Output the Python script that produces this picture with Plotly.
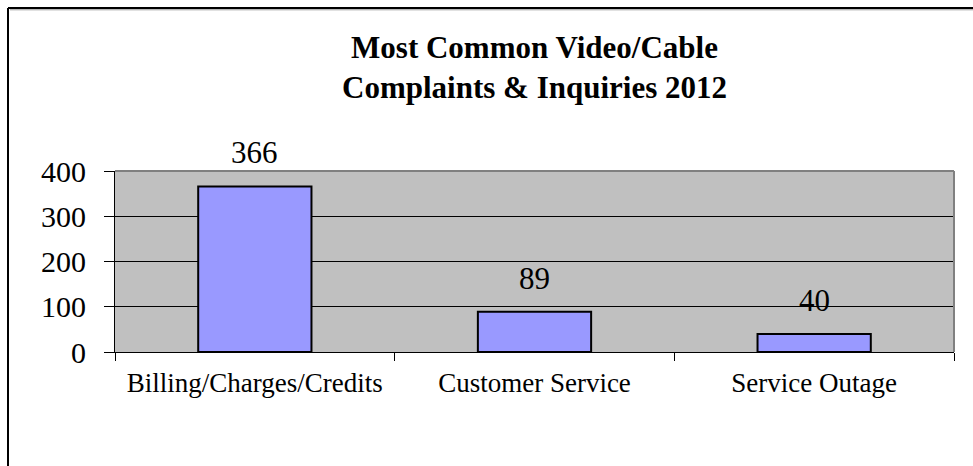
import plotly.graph_objects as go

categories = ["Billing/Charges/Credits", "Customer Service", "Service Outage"]
values = [366, 89, 40]
y_ticks = [0, 100, 200, 300, 400]

W, H = 973, 466
L, R, T, B = 115, 954, 171, 352
SERIF = "Liberation Serif"
fig = go.Figure()
fig.add_trace(go.Bar(
    x=categories, y=values, width=0.405,
    marker=dict(color="#9999FF", line=dict(color="black", width=2)),
    hoverinfo="x+y",
))

pw, ph = R - L, B - T
def px(x):
    return (x - L) / pw
def py(y):
    return (B - y) / ph

annotations = [
    dict(x=c, y=v, xref="x", yref="y", text=str(v), showarrow=False,
         yanchor="bottom", yshift=14,
         font=dict(family=SERIF, size=31, color="black"))
    for c, v in zip(categories, values)
]

fig.update_layout(
    width=W, height=H,
    margin=dict(l=L, r=W - R, t=T, b=H - B, pad=0),
    paper_bgcolor="white", plot_bgcolor="#C0C0C0",
    showlegend=False,
    font=dict(family=SERIF, color="black"),
    title=dict(
        text="<b>Most Common Video/Cable<br>Complaints &amp; Inquiries 2012</b>",
        x=0.5, xanchor="center", xref="paper", y=1 - 58 / H, yanchor="top",
        font=dict(family=SERIF, size=31, color="black"),
    ),
    xaxis=dict(
        tickson="boundaries", ticks="outside", ticklen=8, tickcolor="black", tickwidth=1,
        showline=True, linecolor="black", linewidth=1,
        tickfont=dict(family=SERIF, size=27, color="black"),
        ticklabelstandoff=7,
        showgrid=False, fixedrange=True,
    ),
    yaxis=dict(
        range=[0, 400], tickvals=y_ticks, ticks="outside", ticklen=10, tickcolor="black",
        showline=True, linecolor="black", linewidth=1,
        showgrid=True, gridcolor="black", gridwidth=1,
        tickfont=dict(family=SERIF, size=30, color="black"),
        ticklabelstandoff=12,
        zeroline=False, fixedrange=True,
    ),
    bargap=0.595,
    annotations=annotations,
    shapes=[
        dict(type="line", xref="paper", yref="paper", x0=0, x1=1, y0=1, y1=1,
             line=dict(color="#808080", width=2)),
        dict(type="line", xref="paper", yref="paper", x0=1, x1=1, y0=0, y1=1,
             line=dict(color="#808080", width=2)),
        dict(type="line", xref="paper", yref="paper", x0=px(8), x1=px(8), y0=py(8), y1=py(470),
             line=dict(color="black", width=2)),
        dict(type="line", xref="paper", yref="paper", x0=px(8), x1=px(980), y0=py(8), y1=py(8),
             line=dict(color="black", width=2)),
        dict(type="line", xref="paper", yref="paper", x0=px(10), x1=px(980), y0=py(9.8), y1=py(9.8),
             line=dict(color="#999999", width=1)),
    ],
)

fig.write_html("out.html", config={"displayModeBar": False},
               post_script="document.body.style.margin='0';document.body.style.overflow='hidden';")
